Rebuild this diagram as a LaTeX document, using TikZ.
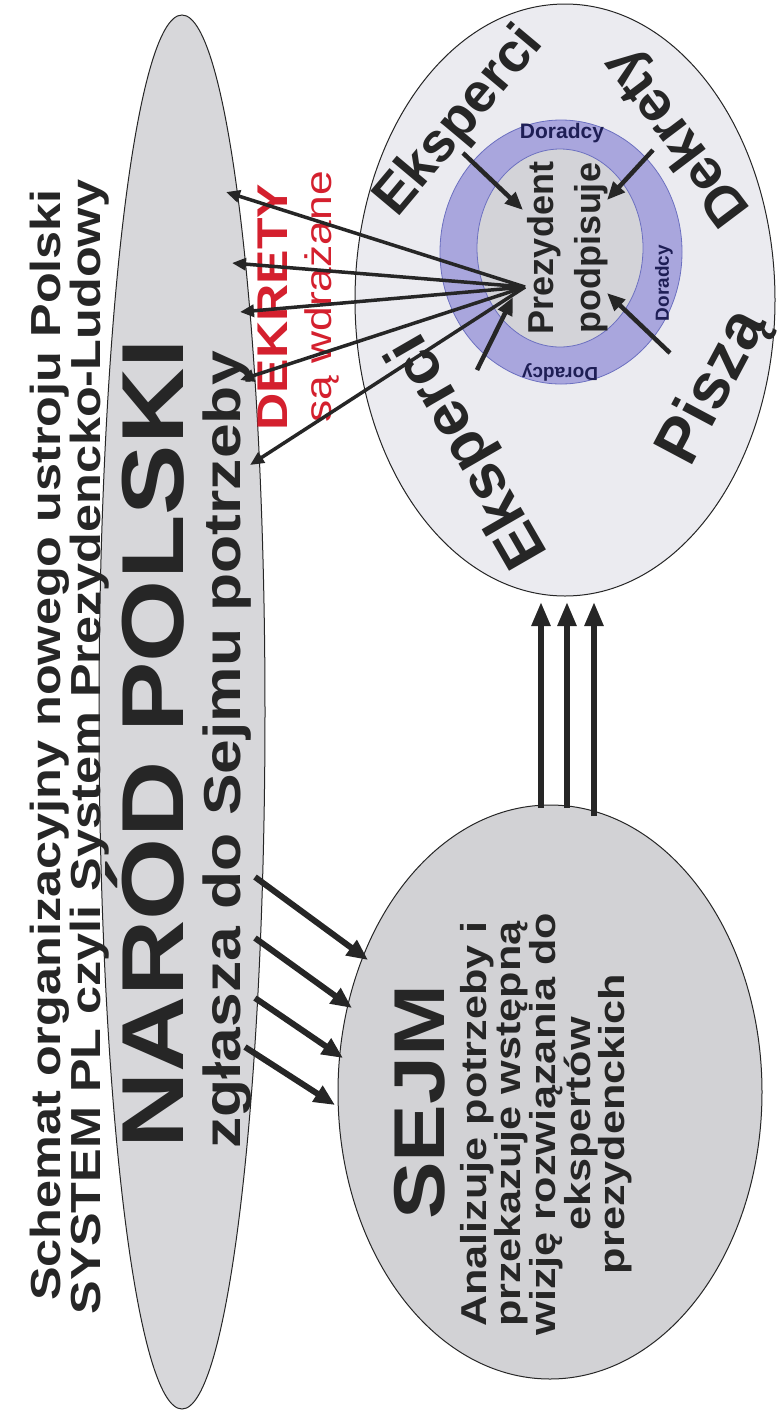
\documentclass[tikz,border=0pt]{standalone}
\usepackage{fontspec}
\setmainfont{Liberation Sans}
\newfontfamily\stf{Liberation Sans}[FakeStretch=1.2]
\newfontfamily\plf{Liberation Sans}
\usetikzlibrary{arrows.meta,shapes.geometric}
\definecolor{ink}{HTML}{262626}
\definecolor{redt}{HTML}{D4202E}
\definecolor{bigfill}{HTML}{D7D7DA}
\definecolor{outfill}{HTML}{EBEBF0}
\definecolor{ringfill}{HTML}{A9A6DD}
\definecolor{infill}{HTML}{D3D3D8}
\definecolor{sejmfill}{HTML}{D2D2D5}
\definecolor{navy}{HTML}{1E1E55}
\definecolor{ringline}{HTML}{6C70C0}
\begin{document}
\begin{tikzpicture}[x=1pt,y=-1pt,
  blob/.style={ellipse, draw=ink, line width=1pt, inner sep=0pt},
  txt/.style={text=ink, inner sep=0pt, align=center},
  darr/.style={draw=ink, line width=3.5pt, -{Triangle[length=14pt,width=12pt]}},
  iarr/.style={draw=ink, line width=4.5pt, -{Triangle[length=18pt,width=15pt]}},
  uarr/.style={draw=ink, line width=5.5pt, -{Triangle[length=24pt,width=18pt]}},
  sarr/.style={draw=ink, line width=6pt, -{Triangle[length=21pt,width=18pt]}}
]
\fill[white] (0,0) rectangle (779,1425);
\useasboundingbox (0,0) rectangle (779,1425);

% ellipses
\node[blob, fill=bigfill, minimum width=166pt, minimum height=1394pt] (narodE) at (182,712) {};
\node[blob, fill=sejmfill, minimum width=424pt, minimum height=574pt] (sejmE) at (550,1092) {};
\node[blob, fill=outfill, minimum width=420pt, minimum height=592pt] (pout) at (565,300) {};
\node[blob, fill=ringfill, draw=ringline, line width=0.8pt, minimum width=242pt, minimum height=264pt] (pring) at (561,252) {};
\node[blob, fill=infill, draw=ringline, line width=0.8pt, minimum width=166pt, minimum height=198pt] (pin) at (560,248) {};

% title
\node[txt, rotate=90, text=ink, font=\stf\bfseries\fontsize{42}{42}\selectfont] (t1) at (50,745) {Schemat organizacyjny nowego ustroju Polski};
\node[txt, rotate=90, text=ink, font=\stf\bfseries\fontsize{42}{42}\selectfont] (t2) at (90,747) {SYSTEM PL czyli System Prezydencko-Ludowy};

% narod
\node[txt, rotate=90, font=\stf\bfseries\fontsize{88}{88}\selectfont] (narod) at (145,744) {NARÓD POLSKI};
\node[txt, rotate=90, font=\stf\bfseries\fontsize{52}{52}\selectfont] (zgl) at (227,750) {zgłasza do Sejmu potrzeby};

% dekrety
\node[txt, rotate=90, text=redt, font=\stf\bfseries\fontsize{43}{43}\selectfont] (dek) at (273,307) {DEKRETY};
\node[txt, rotate=90, text=redt, font=\stf\fontsize{37}{37}\selectfont] (wdr) at (322,297) {są wdrażane};

% sejm
\node[txt, rotate=90, font=\stf\bfseries\fontsize{72}{72}\selectfont] (sejm) at (420,1102) {SEJM};
\node[txt, rotate=90, font=\stf\bfseries\fontsize{36}{33}\selectfont] (sejmtx) at (546,1124) {Analizuje potrzeby i\\przekazuje wstępną\\wizję rozwiązania do\\ekspertów\\prezydenckich};

% prezydent
\node[txt, rotate=90, font=\plf\bfseries\fontsize{36}{47}\selectfont] (prez) at (568,248) {Prezydent\\podpisuje};
\node[txt, text=navy, font=\plf\bfseries\fontsize{21}{21}\selectfont] (dor1) at (562,133) {Doradcy};
\node[txt, rotate=90, text=navy, font=\plf\bfseries\fontsize{19}{19}\selectfont] (dor2) at (664,283) {Doradcy};
\node[txt, rotate=180, text=navy, font=\plf\bfseries\fontsize{19}{19}\selectfont] (dor3) at (560,372) {Doradcy};

\node[txt, rotate=50, font=\plf\bfseries\fontsize{55}{55}\selectfont] (eks1) at (460,122) {Eksperci};
\node[txt, rotate=127, font=\plf\bfseries\fontsize{56}{56}\selectfont] (dekr) at (678,136) {Dekrety};
\node[txt, rotate=62, font=\plf\bfseries\fontsize{64}{64}\selectfont] (pisza) at (714,388) {Piszą};
\node[txt, rotate=120, font=\plf\bfseries\fontsize{62}{62}\selectfont] (eks2) at (470,450) {Eksperci};

% coordinates
\coordinate (hub) at (525,287);
\coordinate (d1) at (226,192);
\coordinate (d2) at (232,263);
\coordinate (d3) at (240,312);
\coordinate (d4) at (240,380);
\coordinate (d5) at (250,465);
\coordinate (i1s) at (463,153); \coordinate (i1e) at (523,210);
\coordinate (i2s) at (653,150); \coordinate (i2e) at (607,200);
\coordinate (i3s) at (670,353); \coordinate (i3e) at (607,293);
\coordinate (i4s) at (477,370); \coordinate (i4e) at (513,297);
\coordinate (s1s) at (255,877); \coordinate (s1e) at (368,960);
\coordinate (s2s) at (255,938); \coordinate (s2e) at (352,1008);
\coordinate (s3s) at (255,998); \coordinate (s3e) at (343,1058);
\coordinate (s4s) at (245,1047); \coordinate (s4e) at (335,1105);
\coordinate (u1s) at (541,808); \coordinate (u1e) at (541,602);
\coordinate (u2s) at (567,808); \coordinate (u2e) at (567,602);
\coordinate (u3s) at (594,816); \coordinate (u3e) at (594,602);

% arrows
\foreach \d in {d1,d2,d3,d4,d5} \draw[darr] (hub) -- (\d);
\foreach \k in {1,2,3,4} \draw[iarr] (i\k s) -- (i\k e);
\foreach \k in {1,2,3,4} \draw[sarr] (s\k s) -- (s\k e);
\foreach \k in {1,2,3} \draw[uarr] (u\k s) -- (u\k e);
\end{tikzpicture}
\end{document}
